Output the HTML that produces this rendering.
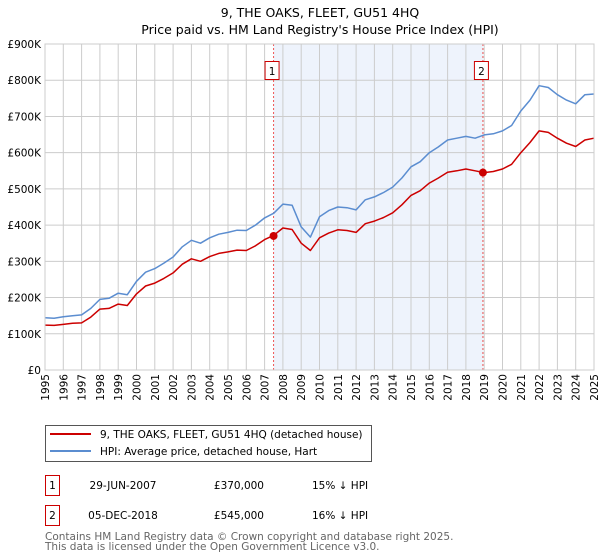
<!DOCTYPE html>
<html><head><meta charset="utf-8"><style>
body{margin:0;background:#fff;}
svg{display:block;font-family:"DejaVu Sans","Liberation Sans",sans-serif;}
</style></head><body>
<svg id="chart" width="600" height="560" viewBox="0 0 600 560">
<text x="320" y="17" text-anchor="middle" font-size="12.5" fill="#000">9, THE OAKS, FLEET, GU51 4HQ</text>
<text x="320" y="34" text-anchor="middle" font-size="12.5" fill="#000">Price paid vs. HM Land Registry's House Price Index (HPI)</text>
<g id="plot"></g>
<g>
<rect x="45.5" y="425.5" width="326" height="36" fill="#fff" stroke="#555"/>
<line x1="50" y1="434" x2="91" y2="434" stroke="#cc0000" stroke-width="2"/>
<text x="100" y="438" font-size="10.5">9, THE OAKS, FLEET, GU51 4HQ (detached house)</text>
<line x1="50" y1="451" x2="91" y2="451" stroke="#5b8dd0" stroke-width="2"/>
<text x="100" y="455" font-size="10.5">HPI: Average price, detached house, Hart</text>
</g>
<g font-size="10.5">
<rect x="45.5" y="475.5" width="14" height="20" fill="#fff" stroke="#cc0000"/>
<text x="52.5" y="489" text-anchor="middle">1</text>
<text x="123" y="489" text-anchor="middle">29-JUN-2007</text>
<text x="264" y="489" text-anchor="end">£370,000</text>
<text x="312" y="489">15% ↓ HPI</text>
<rect x="45.5" y="505.5" width="14" height="20" fill="#fff" stroke="#cc0000"/>
<text x="52.5" y="519" text-anchor="middle">2</text>
<text x="123" y="519" text-anchor="middle">05-DEC-2018</text>
<text x="264" y="519" text-anchor="end">£545,000</text>
<text x="312" y="519">16% ↓ HPI</text>
</g>
<text x="45" y="540" font-size="10.5" fill="#666">Contains HM Land Registry data © Crown copyright and database right 2025.</text>
<text x="45" y="550" font-size="10.5" fill="#666">This data is licensed under the Open Government Licence v3.0.</text>
</svg>
<script>
const years = [];
for (let y = 1995; y <= 2025.001; y += 0.5) years.push(y);
const hpiValues = [144,143,147,150,152,170,195,198,212,208,245,270,280,295,312,340,358,350,365,375,380,386,385,400,420,433,458,455,395,367,423,440,450,448,442,470,478,490,505,530,561,575,600,616,635,640,645,640,649,652,660,675,715,745,785,780,760,745,735,760,762];
const propertyValues = [124,123,126,129,130,146,168,170,182,178,210,232,240,253,268,292,307,300,313,322,326,331,330,343,360,372,392,388,350,330,365,378,387,385,380,404,411,421,434,456,482,495,516,530,546,550,555,550,545,548,555,568,600,628,660,656,640,626,617,635,640];
const saleYears = [2007.49, 2018.93];
const salePrices = [370, 545];
const saleLabels = ["1", "2"];
const yTicks = [0,100,200,300,400,500,600,700,800,900];
const yTickLabels = ["£0","£100K","£200K","£300K","£400K","£500K","£600K","£700K","£800K","£900K"];
const xTicks = [];
for (let y = 1995; y <= 2025; y++) xTicks.push(y);

const L=45,R=594,T=44,B=370;
const xs = y => L + (y-1995)/(2025-1995)*(R-L);
const ys = v => B - v/900*(B-T);
const NS="http://www.w3.org/2000/svg";
const plot=document.getElementById('plot');
function mk(tag,attrs,parent){const e=document.createElementNS(NS,tag);for(const k in attrs)e.setAttribute(k,attrs[k]);(parent||plot).appendChild(e);return e;}

let e=mk('rect',{x:xs(saleYears[0]),y:T,width:xs(saleYears[1])-xs(saleYears[0]),height:B-T,fill:'#eef3fc'});



xTicks.forEach(t=>{
  const g=mk('line',{x1:xs(t),x2:xs(t),y1:T,y2:B,stroke:'#cccccc','stroke-width':1});
  
  
  const px=xs(t)+4, py=374;
  const tx=mk('text',{x:px,y:py,'text-anchor':'end','font-size':'10.5',transform:'rotate(-90 '+px+' '+py+')'});
  tx.textContent=t;
  
  
});
yTicks.forEach((t,i)=>{
  const g=mk('line',{x1:L,x2:R,y1:ys(t),y2:ys(t),stroke:'#cccccc','stroke-width':1});
  
  
  const tx=mk('text',{x:L-4,y:ys(t)+4,'text-anchor':'end','font-size':'10.5'});
  tx.textContent=yTickLabels[i];
  
  
});

saleYears.forEach((sy,i)=>{
  const l=mk('line',{x1:xs(sy),x2:xs(sy),y1:T,y2:B,stroke:'#ee5555','stroke-width':1,'stroke-dasharray':'2,2'});
  
  
  const r=mk('rect',{x:xs(sy)-8.5,y:61.5,width:14,height:18,fill:'#fff',stroke:'#cc0000'});
  
  
  const t=mk('text',{x:xs(sy)-1.5,y:75,'text-anchor':'middle','font-size':'10.5'});
  t.textContent=saleLabels[i];
  
  
});

function line(vals,color,name){
  const d=vals.map((v,i)=>(i?'L':'M')+xs(years[i]).toFixed(1)+','+ys(v).toFixed(1)).join('');
  const p=mk('path',{d:d,fill:'none',stroke:color,'stroke-width':1.5,'stroke-linejoin':'round'});
  
  
}
line(hpiValues,'#5b8dd0','hpi-line');
line(propertyValues,'#cc0000','property-price-line');

saleYears.forEach((sy,i)=>{
  const c=mk('circle',{cx:xs(sy),cy:ys(salePrices[i]),r:4,fill:'#cc0000'});
  
  
});
const frame=mk('rect',{x:L,y:T,width:R-L,height:B-T,fill:'none',stroke:'#cccccc'});


</script>
</body></html>
